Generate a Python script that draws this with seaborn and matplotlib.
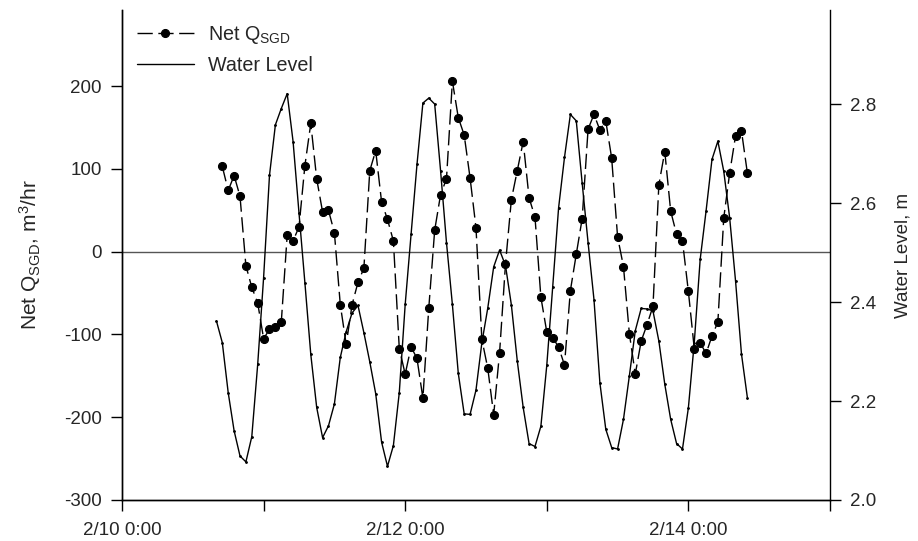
import pandas as pd
import matplotlib
matplotlib.use('Agg')
import matplotlib.pyplot as plt
import seaborn as sns

# ========== data (hourly readings) ==========
wl_start = '2010-02-10 16:00'
q_start = '2010-02-10 17:00'

# water level, m  (2/10 16:00 .. 2/14 10:00)
water_level = [
    2.362, 2.318, 2.217, 2.140, 2.089, 2.077, 2.128, 2.274, 2.449, 2.656,
    2.758, 2.791, 2.821, 2.724, 2.580, 2.439, 2.294, 2.187, 2.126, 2.150,
    2.194, 2.288, 2.340, 2.378, 2.393, 2.338, 2.279, 2.215, 2.117, 2.068,
    2.110, 2.217, 2.395, 2.537, 2.678, 2.802, 2.812, 2.800, 2.665, 2.520,
    2.395, 2.256, 2.174, 2.173, 2.222, 2.318, 2.388, 2.471, 2.505, 2.474,
    2.394, 2.281, 2.187, 2.114, 2.108, 2.149, 2.272, 2.430, 2.590, 2.692,
    2.779, 2.766, 2.640, 2.520, 2.405, 2.237, 2.143, 2.106, 2.103, 2.163,
    2.251, 2.342, 2.387, 2.386, 2.382, 2.321, 2.234, 2.163, 2.114, 2.103,
    2.186, 2.318, 2.486, 2.584, 2.688, 2.725, 2.664, 2.570, 2.442, 2.295,
    2.207,
]

# net Q_SGD, m3/hr  (2/10 17:00 .. 2/14 10:00)
net_q = [
    103, 74, 92, 67, -17, -43, -62, -105, -94, -91,
    -85, 20, 13, 30, 104, 155, 88, 48, 50, 23,
    -64, -112, -64, -37, -20, 98, 122, 60, 39, 13,
    -117, -148, -115, -129, -177, -68, 26, 69, 88, 206,
    162, 141, 89, 29, -106, -141, -197, -122, -15, 63,
    98, 133, 65, 42, -55, -97, -104, -115, -137, -47,
    -3, 40, 148, 166, 147, 158, 113, 18, -18, -99,
    -148, -108, -88, -66, 81, 121, 49, 21, 13, -48,
    -117, -110, -123, -102, -85, 41, 95, 140, 146, 95,
]

x_ticks = ['2010-02-10', '2010-02-11', '2010-02-12', '2010-02-13', '2010-02-14', '2010-02-15']
x_tick_labels = ['2/10 0:00', '', '2/12 0:00', '', '2/14 0:00', '']
q_ticks = [-300, -200, -100, 0, 100, 200]
wl_ticks = [2.0, 2.2, 2.4, 2.6, 2.8]

wl_df = pd.DataFrame({'time': pd.date_range(wl_start, periods=len(water_level), freq='h'),
                      'level': water_level})
q_df = pd.DataFrame({'time': pd.date_range(q_start, periods=len(net_q), freq='h'),
                     'q': net_q})

# ========== style ==========
sns.set_style('ticks')
plt.rcParams['font.family'] = ['Liberation Sans', 'DejaVu Sans']
plt.rcParams['mathtext.default'] = 'regular'
plt.rcParams['axes.unicode_minus'] = False

fig = plt.figure(figsize=(9.18, 5.41), dpi=100)
ax1 = fig.add_axes([0.1329, 0.0758, 0.7712, 0.9057])
ax2 = ax1.twinx()

ax1.axhline(0, color='#555555', lw=1, zorder=1)
sns.lineplot(data=q_df, x='time', y='q', ax=ax1, color='black', lw=1,
             linestyle=(0, (11, 4)), marker='o', markersize=5.8,
             markeredgecolor='black', legend=False)
sns.lineplot(data=wl_df, x='time', y='level', ax=ax2, color='black', lw=1,
             marker='.', markersize=2.5, markeredgecolor='black', legend=False)

# axes limits / ticks
ax1.set_xlim(pd.Timestamp(x_ticks[0]), pd.Timestamp(x_ticks[-1]))
ax1.set_xticks([pd.Timestamp(t) for t in x_ticks])
ax1.set_xticklabels(x_tick_labels)
ax1.set_ylim(-300, 292)
ax1.set_yticks(q_ticks)
ax2.set_ylim(2.0, 2.99)
ax2.set_yticks(wl_ticks)
ax2.set_yticklabels([f'{v:.1f}' for v in wl_ticks])

for ax in (ax1, ax2):
    ax.spines['top'].set_visible(False)
    ax.tick_params(direction='out', length=8, width=1, labelsize=13.5,
                   color='black', pad=6.5)
    for s in ax.spines.values():
        s.set_linewidth(1)
        s.set_color('black')
ax1.spines['right'].set_visible(False)
ax1.tick_params(axis='x', pad=8)

ax1.set_xlabel('')
ax1.set_ylabel('Net Q$_{SGD}$, m$^3$/hr', fontsize=15, labelpad=15)
ax2.set_ylabel('Water Level, m', fontsize=13.5, labelpad=13)

# legend
h1 = ax1.lines[-1]
h2 = ax2.lines[-1]
leg = ax2.legend([h1, h2], ['Net Q$_{SGD}$', 'Water Level'], loc='upper left',
                 bbox_to_anchor=(0.021, 0.972), frameon=False, fontsize=14.2,
                 handlelength=2.9, handletextpad=0.7, labelspacing=0.5,
                 borderpad=0, borderaxespad=0)
leg.legend_handles[1].set_marker('')

plt.savefig('out.png', dpi=100)
